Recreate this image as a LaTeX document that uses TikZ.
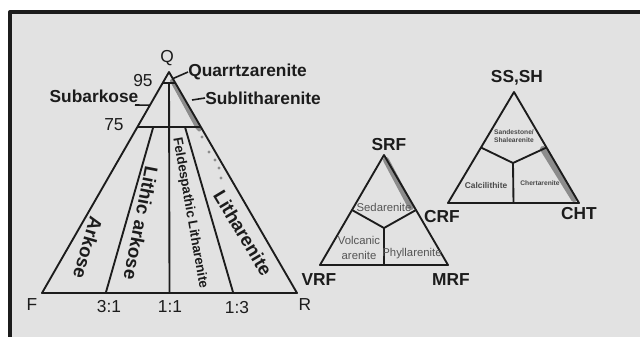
\documentclass[tikz,border=0pt]{standalone}
\usepackage{fontspec}
\setmainfont{Liberation Sans}
\usepackage{tikz}
\usetikzlibrary{positioning,calc}
\definecolor{ink}{HTML}{1C1C1C}
\definecolor{paper}{HTML}{E2E2E2}
\definecolor{grain}{HTML}{8C8C8C}

\begin{document}
\begin{tikzpicture}[x=0.75pt,y=-0.75pt,
                    line join=round,
                    tri line/.style={line width=1.4pt,draw=ink},
                    corner label/.style={font=\fontsize{13}{15}\selectfont,text=ink,inner sep=0pt},
                    name label/.style={font=\bfseries\fontsize{13}{15}\selectfont,text=ink,inner sep=0pt},
                    field label/.style={font=\bfseries\fontsize{14}{16}\selectfont,text=ink,inner sep=0pt},
                    small label/.style={font=\fontsize{8.5}{11}\selectfont,text=ink!75,inner sep=0pt,align=center},
                    tiny label/.style={font=\bfseries\fontsize{5}{6.5}\selectfont,text=ink!80,inner sep=0pt,align=center},
                    grain band/.style={line width=4.5pt,draw=grain,line cap=round}]
  \useasboundingbox (0,0) rectangle (640,337);
  \fill[paper] (10,12) rectangle (640,337);
  \draw[line width=3pt,ink] (640,12) -- (10,12) -- (10,337);

  % Q-F-R triangle
  \coordinate (Q) at (169,72);
  \coordinate (F) at (42,293);
  \coordinate (R) at (297,293);
  \coordinate (b31) at ($(F)!0.25!(R)$);
  \coordinate (b11) at ($(F)!0.5!(R)$);
  \coordinate (b13) at ($(F)!0.75!(R)$);
  \fill[grain] ($(Q)!0.03!(R)$) -- ($(Q)!0.26!(R)$) -- ($(Q)!0.26!(R)+(-6,0)$) -- ($(Q)!0.04!(R)+(-4,0)$) -- cycle;
  \draw[grain band,line width=3pt] ($(Q)!0.04!(R)+(-2,0)$) -- ($(Q)!0.26!(R)+(-3,0)$);
  \foreach \px/\py in {202/137,209/152,215/160,219/168,221/178}
    \fill[grain] (\px,\py) circle (1.6);
  \draw[tri line] (Q) -- (F) -- (R) -- cycle;
  \draw[tri line] ($(Q)!0.05!(F)$) -- ($(Q)!0.05!(R)$);
  \draw[tri line] ($(Q)!0.25!(F)$) -- ($(Q)!0.25!(R)$);
  \draw[tri line] ($(Q)!0.25!(b31)$) -- (b31);
  \draw[tri line] ($(Q)!0.05!(b11)$) -- (b11);
  \draw[tri line] ($(Q)!0.25!(b13)$) -- (b13);

  \node[corner label] (q) at (167,58) {Q};
  \node[corner label] (f) at (32,305) {F};
  \node[corner label] (r) at (305,305) {R};
  \node[corner label] (n95) at (143,81) {95};
  \node[corner label] (n75) at (114,125) {75};
  \node[corner label] (r31) at (109,307) {3:1};
  \node[corner label] (r11) at (170,307) {1:1};
  \node[corner label] (r13) at (237,308) {1:3};

  \node[name label] (sa) at (94,96) {Subarkose};
  \coordinate (sa1) at (135,105);
  \coordinate (sa2) at ($(Q)!0.15!(F)$);
  \draw[line width=1.2pt,ink] (sa1) -- (sa2);
  \node[name label,anchor=west] (qa) at (188,72) {Quarrtzarenite};
  \coordinate (qa1) at ($(Q)!0.03!(R)$);
  \draw[line width=1.2pt,ink] (qa1) -- (qa.west);
  \node[name label,anchor=west] (sl) at (205,98) {Sublitharenite};
  \coordinate (sl1) at (192,100);
  \draw[line width=1.2pt,ink] (sl1) -- (sl.west);

  \node[field label,rotate=-106] (ak) at (88,248) {Arkose};
  \node[field label,rotate=-101] (la) at (141,223) {Lithic arkose};
  \node[font=\bfseries\fontsize{10}{12}\selectfont,text=ink,inner sep=0pt,rotate=-80] (fl) at (190,213) {Feldespathic Litharenite};
  \node[field label,rotate=-59] (lt) at (243,233) {Litharenite};

  % SRF-VRF-MRF triangle
  \coordinate (SRF) at (384,155);
  \coordinate (VRF) at (320,265);
  \coordinate (MRF) at (448,265);
  \coordinate (c2) at (384,228);
  \draw[grain band] (386,160) -- (411,207);
  \draw[tri line] (SRF) -- (VRF) -- (MRF) -- cycle;
  \draw[tri line] ($(SRF)!0.5!(VRF)$) -- (c2) -- ($(SRF)!0.5!(MRF)$);
  \draw[tri line] (c2) -- ($(VRF)!0.5!(MRF)$);
  \node[name label] (srf) at (389,145) {SRF};
  \node[name label] (vrf) at (319,280) {VRF};
  \node[name label] (mrf) at (451,280) {MRF};
  \node[small label] (sed) at (384,207) {Sedarenite};
  \node[small label] (vol) at (359,248) {Volcanic\\arenite};
  \node[small label] (phy) at (412,254) {Phyllarenite};

  % SS,SH-CRF-CHT triangle
  \coordinate (SS) at (514,92);
  \coordinate (CRF) at (448,203);
  \coordinate (CHT) at (579,203);
  \coordinate (c3) at (513,163);
  \draw[grain band] (543,149) -- (574,199);
  \draw[tri line] (SS) -- (CRF) -- (CHT) -- cycle;
  \draw[tri line] ($(SS)!0.5!(CRF)$) -- (c3) -- ($(SS)!0.5!(CHT)$);
  \draw[tri line] (c3) -- ($(CRF)!0.5!(CHT)$);
  \node[name label] (ss) at (517,78) {SS,SH};
  \node[name label] (crf) at (442,217) {CRF};
  \node[name label] (cht) at (579,214) {CHT};
  \node[tiny label] (sdst) at (514,136) {Sandestone/\\Shalearenite};
  \node[tiny label,font=\bfseries\fontsize{6.3}{7}\selectfont] (cal) at (486,185) {Calcilithite};
  \node[tiny label] (cht2) at (540,183) {Chertarenite};
\end{tikzpicture}
\end{document}
